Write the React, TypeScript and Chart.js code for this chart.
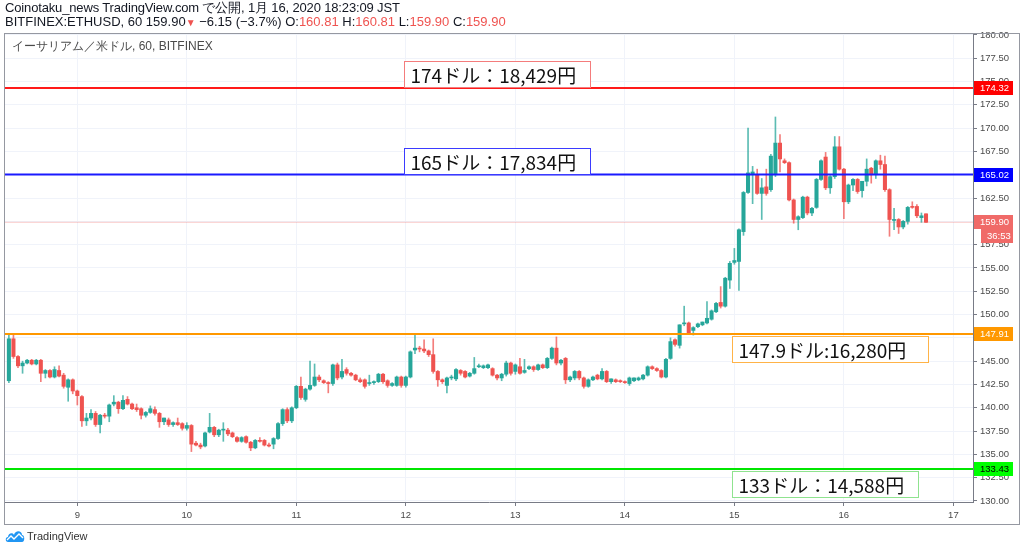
import React, { useEffect, useRef } from "react";
import { Chart, registerables } from "chart.js";
Chart.register(...registerables);

// ---- data (hourly candles, first candle = Jan 8 09:00) ----
const opens = [
  142.9, 147.4, 145.5, 144.5, 144.8, 145.1, 144.7, 145.1, 143.7, 144.0,
  143.3, 144.0, 143.5, 142.2, 143.0, 141.8, 141.2, 138.6, 138.9, 139.4,
  138.2, 139.2, 139.1, 140.4, 140.6, 139.9, 140.9, 140.4, 140.0, 139.9,
  139.2, 139.5, 139.8, 139.4, 138.5, 138.7, 138.2, 138.4, 138.3, 137.8,
  138.1, 136.2, 136.0, 135.9, 137.4, 137.9, 137.1, 137.6, 137.6, 137.3,
  136.8, 136.4, 136.9, 136.3, 135.7, 136.5, 136.5, 136.0, 136.1, 136.7,
  138.3, 139.8, 138.6, 140.0, 142.3, 140.9, 142.0, 142.4, 143.3, 142.9,
  142.7, 142.6, 144.6, 143.3, 144.1, 143.7, 143.5, 143.0, 143.0, 142.6,
  142.7, 142.8, 143.6, 142.9, 142.4, 142.4, 143.3, 142.4, 143.3, 146.2,
  146.4, 146.3, 146.1, 145.7, 143.9, 143.0, 142.4, 143.2, 143.1, 144.0,
  143.9, 143.4, 143.7, 144.4, 144.3, 144.3, 144.2, 143.5, 143.2, 143.6,
  144.8, 143.9, 144.4, 143.8, 144.2, 144.4, 144.1, 144.6, 144.3, 145.3,
  146.4, 144.8, 145.3, 143.0, 143.2, 143.9, 143.2, 142.3, 143.0, 143.5,
  143.1, 143.9, 142.8, 143.0, 142.9, 142.8, 142.6, 142.9, 143.0, 143.1,
  143.5, 144.4, 144.2, 144.0, 143.3, 145.3, 147.3, 146.7, 149.0, 149.1,
  148.3, 148.7, 148.9, 149.1, 149.5, 150.3, 151.3, 150.9, 153.7, 155.6,
  155.7, 158.9, 163.1, 165.0, 165.0, 163.0, 163.7, 163.4, 165.0, 168.4,
  166.5, 166.3, 162.3, 160.2, 160.4, 162.6, 160.9, 161.5, 164.5, 166.9,
  163.6, 164.8, 168.0, 165.6, 162.1, 163.9, 164.5, 163.3, 164.3, 165.7,
  165.0, 166.5, 166.1, 163.4, 160.1, 160.2, 159.4, 160.0, 161.6, 161.6,
  160.4, 160.81,
];
const highs = [
  147.9, 147.9, 145.6, 145.0, 145.2, 145.2, 145.2, 145.2, 144.1, 144.1,
  144.4, 144.5, 143.7, 143.1, 143.1, 141.9, 141.3, 139.4, 139.8, 139.6,
  139.3, 139.4, 140.4, 141.3, 140.7, 141.3, 141.2, 140.5, 140.4, 140.0,
  139.6, 140.2, 140.1, 139.5, 138.9, 138.9, 138.5, 138.9, 138.4, 138.4,
  138.2, 136.4, 136.2, 137.4, 139.4, 138.0, 137.7, 138.4, 137.8, 137.4,
  136.9, 136.9, 137.0, 136.4, 136.6, 136.8, 136.6, 136.2, 136.8, 138.4,
  139.9, 140.0, 140.1, 142.4, 143.3, 142.1, 145.0, 144.7, 143.5, 143.0,
  142.8, 144.7, 144.8, 145.2, 144.3, 143.8, 143.6, 143.2, 143.1, 143.5,
  142.9, 143.7, 143.7, 143.0, 142.7, 143.4, 143.4, 143.4, 146.1, 147.8,
  146.6, 147.3, 146.2, 147.4, 144.0, 143.1, 143.3, 143.5, 144.2, 144.1,
  144.0, 143.8, 145.4, 144.7, 144.6, 144.7, 144.3, 143.6, 143.7, 145.0,
  144.9, 144.7, 145.3, 145.2, 144.5, 144.5, 144.7, 144.7, 145.4, 146.5,
  147.6, 145.2, 145.4, 143.4, 144.0, 144.0, 143.3, 143.1, 143.4, 143.6,
  144.2, 144.0, 143.1, 143.1, 143.0, 142.9, 143.3, 143.2, 143.3, 143.6,
  144.5, 144.5, 144.3, 144.1, 145.3, 147.5, 147.4, 148.9, 150.9, 149.2,
  148.7, 149.1, 149.2, 151.4, 150.5, 151.3, 153.0, 154.0, 155.7, 157.1,
  159.2, 163.2, 170.0, 165.9, 165.6, 164.6, 165.6, 167.2, 171.2, 169.3,
  166.7, 166.4, 162.4, 160.6, 162.7, 162.7, 161.5, 164.6, 166.6, 167.4,
  164.9, 169.1, 169.1, 165.7, 164.0, 164.6, 164.6, 164.3, 166.7, 165.8,
  166.6, 167.1, 167.0, 163.5, 161.4, 160.3, 160.1, 161.6, 162.1, 161.8,
  160.9, 160.81,
];
const lows = [
  142.7, 145.3, 144.3, 143.7, 144.7, 144.6, 144.6, 142.8, 143.2, 143.2,
  143.2, 143.3, 142.1, 140.7, 141.5, 140.3, 138.0, 138.1, 138.7, 138.0,
  137.3, 138.9, 138.5, 140.2, 139.4, 139.8, 140.3, 139.8, 139.6, 138.8,
  139.0, 139.4, 139.2, 137.9, 138.2, 138.0, 138.0, 138.1, 137.6, 137.6,
  135.3, 135.9, 135.6, 135.8, 137.3, 136.9, 136.9, 136.4, 137.0, 136.8,
  136.3, 136.3, 136.2, 135.4, 135.6, 136.3, 135.9, 135.8, 135.6, 136.6,
  138.1, 138.4, 138.4, 139.9, 140.9, 140.7, 141.9, 142.3, 142.8, 142.6,
  141.6, 142.4, 143.0, 143.1, 143.5, 143.4, 142.9, 142.7, 142.1, 142.4,
  142.5, 142.7, 142.6, 142.2, 142.3, 142.3, 142.2, 142.2, 143.2, 145.8,
  146.0, 145.9, 145.5, 143.7, 142.3, 142.6, 141.6, 143.0, 142.9, 143.5,
  143.2, 143.3, 143.6, 144.3, 144.2, 144.2, 143.4, 143.0, 142.9, 143.4,
  143.5, 143.6, 143.6, 143.7, 144.1, 143.9, 144.0, 144.2, 144.2, 145.2,
  144.6, 144.6, 142.6, 142.8, 143.0, 143.0, 142.1, 142.2, 142.9, 143.0,
  143.0, 142.7, 142.6, 142.7, 142.7, 142.6, 142.4, 142.8, 142.9, 143.0,
  143.4, 144.1, 143.9, 143.2, 143.2, 145.2, 146.6, 146.4, 148.8, 147.9,
  147.8, 148.6, 148.8, 149.0, 149.4, 150.2, 150.7, 150.8, 152.8, 155.4,
  152.6, 158.5, 163.0, 161.9, 162.9, 160.2, 162.8, 163.2, 164.8, 165.3,
  166.2, 162.2, 159.8, 159.1, 160.3, 160.7, 160.6, 161.4, 164.4, 163.4,
  163.0, 164.6, 165.5, 160.3, 161.9, 163.3, 163.0, 162.6, 163.8, 164.1,
  164.6, 165.6, 163.2, 158.4, 159.1, 158.7, 159.2, 159.7, 161.4, 160.4,
  159.9, 159.9,
];
const closes = [
  147.4, 145.5, 144.5, 144.8, 145.1, 144.7, 145.1, 143.7, 144.0, 143.3,
  144.1, 143.4, 142.3, 143.0, 141.8, 141.3, 138.6, 138.9, 139.4, 138.2,
  139.2, 139.1, 140.3, 140.6, 139.9, 140.8, 140.4, 139.9, 139.8, 139.2,
  139.5, 139.9, 139.4, 138.5, 138.9, 138.2, 138.4, 138.2, 137.8, 138.1,
  136.1, 136.0, 135.8, 137.3, 137.9, 137.1, 137.6, 137.7, 137.2, 136.9,
  136.4, 136.8, 136.3, 135.7, 136.5, 136.4, 136.0, 135.9, 136.7, 138.3,
  139.8, 138.6, 140.0, 142.3, 141.1, 142.0, 142.4, 143.3, 143.0, 142.7,
  142.6, 144.6, 143.2, 143.9, 143.7, 143.5, 143.0, 142.8, 142.3, 142.7,
  142.8, 143.6, 142.8, 142.4, 142.6, 143.3, 142.4, 143.3, 146.0, 146.4,
  146.3, 146.1, 145.7, 143.9, 143.0, 142.8, 143.2, 143.3, 144.1, 143.7,
  143.3, 143.7, 144.2, 144.5, 144.5, 144.6, 143.5, 143.2, 143.6, 144.8,
  143.7, 144.6, 143.7, 144.0, 144.4, 144.1, 144.6, 144.3, 145.3, 146.4,
  144.8, 145.1, 143.0, 143.3, 143.9, 143.2, 142.3, 143.0, 143.3, 143.1,
  143.9, 142.8, 143.1, 142.8, 142.8, 142.7, 143.2, 143.2, 143.2, 143.5,
  144.4, 144.2, 144.0, 143.3, 145.2, 147.1, 146.8, 148.9, 149.1, 148.0,
  148.6, 149.0, 149.2, 149.6, 150.4, 151.2, 150.9, 153.9, 155.5, 155.8,
  159.1, 163.1, 165.2, 165.3, 163.0, 163.6, 163.0, 167.0, 168.4, 166.7,
  166.3, 162.3, 160.2, 160.5, 162.6, 160.9, 161.4, 164.5, 166.5, 163.6,
  164.8, 168.0, 165.6, 162.1, 163.9, 164.5, 163.2, 164.3, 165.6, 165.0,
  166.5, 166.1, 163.4, 160.2, 160.2, 159.4, 160.0, 161.5, 161.5, 160.6,
  160.6, 159.9,
];

const firstCandleDay = 8;
const firstCandleHour = 9;
const dayTicks = [9, 10, 11, 12, 13, 14, 15, 16, 17];
const priceTicks = [
  130, 132.5, 135, 137.5, 140, 142.5, 145, 147.5, 150, 152.5, 155, 157.5,
  160, 162.5, 165, 167.5, 170, 172.5, 175, 177.5, 180,
];
const levelPrices = [174.32, 165.02, 147.91, 133.43];
const levelLineColors = ["#ff1a1a", "#1a1aff", "#ff9800", "#00e600"];
const levelTagColors = ["#ff0000", "#0000ff", "#ff9800", "#00ff00"];
const levelTagText = ["#ffffff", "#ffffff", "#ffffff", "#000000"];
const levelNotes = ["174ドル：18,429円", "165ドル：17,834円", "147.9ドル:16,280円", "133ドル：14,588円"];
const noteBorders = ["#f47c7c", "#3b3bff", "#ffb347", "#8fe38f"];
const noteHourFrom = [86.6, 86.6, 158.5, 158.5];
const noteHourTo = [127.4, 127.4, 201.5, 199.3];
const noteAbove = [true, true, false, false];
const lastPrice = 159.9;
const countdown = "36:53";

const X_MIN = -0.85;
const X_MAX = 211.3;
const Y_MIN = 129.89;
const Y_MAX = 180.21;

const UP = "#26a69a";
const DOWN = "#ef5350";
const UP_WICK = "rgba(38,166,154,0.75)";
const DOWN_WICK = "rgba(239,83,80,0.75)";
const AXIS_FONT = '"Liberation Sans", Arial, sans-serif';

const dayTickHour = (d: number) => (d - firstCandleDay) * 24 - firstCandleHour;

export default function App() {
  const ref = useRef<HTMLCanvasElement | null>(null);

  useEffect(() => {
    const canvas = ref.current;
    if (!canvas) return;
    const isUp = opens.map((o, i) => closes[i] >= o);

    const hline = (price: number, color: string, width: number, order: number) => ({
      type: "line" as const,
      data: [
        { x: X_MIN, y: price },
        { x: X_MAX, y: price },
      ],
      borderColor: color,
      borderWidth: width,
      pointRadius: 0,
      fill: false,
      order,
    });

    const overlay = {
      id: "overlay",
      afterDraw(chart: any) {
        const ctx = chart.ctx;
        const xs = chart.scales.x;
        const ys = chart.scales.y;
        const area = chart.chartArea;
        ctx.save();
        // notes
        levelNotes.forEach((txt, i) => {
          const yLine = Math.round(ys.getPixelForValue(levelPrices[i]));
          const x0 = Math.round(xs.getPixelForValue(noteHourFrom[i])) + 0.5;
          const x1 = Math.round(xs.getPixelForValue(noteHourTo[i])) + 0.5;
          const h = 26;
          const yTop = noteAbove[i] ? yLine - h - 1 + 0.5 : yLine + 2 + 0.5;
          ctx.fillStyle = "#ffffff";
          ctx.fillRect(x0, yTop, x1 - x0, h);
          ctx.strokeStyle = noteBorders[i];
          ctx.lineWidth = 1;
          ctx.strokeRect(x0, yTop, x1 - x0, h);
          ctx.fillStyle = "#111111";
          ctx.font = '19px "Noto Sans CJK JP", sans-serif';
          ctx.textBaseline = "middle";
          ctx.textAlign = "left";
          ctx.fillText(txt, x0 + 6, yTop + h / 2 + 1);
        });
        // price tags on the right axis
        const tag = (price: number, text: string, bg: string, fg: string, left: number, dy = 0) => {
          const y = ys.getPixelForValue(price) + dy;
          ctx.fillStyle = bg;
          ctx.fillRect(left, Math.round(y - 7), 1013 - left, 14);
          ctx.fillStyle = fg;
          ctx.font = "9.5px " + AXIS_FONT;
          ctx.textBaseline = "middle";
          ctx.textAlign = "left";
          ctx.fillText(text, left + 6, Math.round(y) + 0.5);
        };
        levelPrices.forEach((p, i) => tag(p, p.toFixed(2), levelTagColors[i], levelTagText[i], area.right + 1));
        tag(lastPrice, lastPrice.toFixed(2), "#f06a68", "#ffffff", area.right + 1);
        tag(lastPrice, countdown, "#f06a68", "#ffffff", area.right + 8, 14);
        // frame
        ctx.strokeStyle = "#9598a1";
        ctx.lineWidth = 1;
        ctx.strokeRect(4.5, 33.5, 1015, 491);
        ctx.restore();
      },
    };

    const chart = new Chart(canvas, {
      type: "bar",
      data: {
        datasets: [
          hline(levelPrices[0], levelLineColors[0], 2, 0),
          hline(levelPrices[1], levelLineColors[1], 2, 0),
          hline(levelPrices[2], levelLineColors[2], 2, 0),
          hline(levelPrices[3], levelLineColors[3], 2, 0),
          hline(lastPrice, "rgba(239,83,80,0.3)", 1, 3),
          {
            type: "bar",
            data: opens.map((_, i) => ({ x: i, y: [lows[i], highs[i]] })),
            backgroundColor: isUp.map((u) => (u ? UP_WICK : DOWN_WICK)),
            barThickness: 1,
            grouped: false,
            order: 2,
          } as any,
          {
            type: "bar",
            data: opens.map((o, i) => ({ x: i, y: [o, closes[i]] })),
            backgroundColor: isUp.map((u) => (u ? UP : DOWN)),
            barThickness: 3.4,
            minBarLength: 1,
            grouped: false,
            order: 1,
          } as any,
        ],
      },
      options: {
        animation: false,
        responsive: false,
        devicePixelRatio: 1,
        layout: { padding: { left: 5, right: 5, top: 33, bottom: 28 } },
        plugins: { legend: { display: false }, tooltip: { enabled: false } },
        events: [],
        scales: {
          x: {
            type: "linear",
            min: X_MIN,
            max: X_MAX,
            offset: false,
            afterBuildTicks: (s: any) => {
              s.ticks = dayTicks.map((d) => ({ value: dayTickHour(d) }));
            },
            afterFit: (s: any) => {
              s.height = 22;
            },
            ticks: {
              autoSkip: false,
              maxRotation: 0,
              padding: 4,
              color: "#4a4a4a",
              font: { family: AXIS_FONT, size: 9.5 },
              callback: (_v: any, i: number) => String(dayTicks[i]),
            },
            grid: { color: "#f0f3fa", tickColor: "#787b86", tickLength: 4, offset: false },
            border: { color: "#787b86" },
          },
          y: {
            type: "linear",
            position: "right",
            min: Y_MIN,
            max: Y_MAX,
            afterBuildTicks: (s: any) => {
              s.ticks = priceTicks.map((v) => ({ value: v }));
            },
            afterFit: (s: any) => {
              s.width = 46;
            },
            ticks: {
              padding: 3,
              color: "#4a4a4a",
              font: { family: AXIS_FONT, size: 9.5 },
              callback: (v: any) => Number(v).toFixed(2),
            },
            grid: { color: "#f0f3fa", tickColor: "#787b86", tickLength: 4 },
            border: { color: "#787b86" },
          },
        },
      } as any,
      plugins: [overlay],
    });
    return () => chart.destroy();
  }, []);

  const red = "#ef5350";
  return (
    <div
      style={{
        position: "absolute",
        left: 0,
        top: 0,
        width: 1024,
        height: 552,
        background: "#ffffff",
        overflow: "hidden",
        fontFamily: AXIS_FONT,
      }}
    >
      <canvas ref={ref} width={1024} height={552} style={{ position: "absolute", left: 0, top: 0, width: 1024, height: 552 }} />
      <div style={{ position: "absolute", left: 5, top: 1, fontSize: 13, lineHeight: "14px", color: "#131722", whiteSpace: "nowrap" }}>
        <div style={{ letterSpacing: -0.15 }}>Coinotaku_news TradingView.com で公開, 1月 16, 2020 18:23:09 JST</div>
        <div>
          BITFINEX:ETHUSD, 60 159.90<span style={{ color: red, fontSize: 10 }}>▼</span> −6.15 (−3.7%) O:
          <span style={{ color: red }}>160.81</span> H:<span style={{ color: red }}>160.81</span> L:
          <span style={{ color: red }}>159.90</span> C:<span style={{ color: red }}>159.90</span>
        </div>
      </div>
      <div style={{ position: "absolute", left: 12, top: 38, fontSize: 12, lineHeight: "16px", color: "#4a4a4a", whiteSpace: "nowrap" }}>
        イーサリアム／米ドル, 60, BITFINEX
      </div>
      <div style={{ position: "absolute", left: 5, top: 529, display: "flex", alignItems: "center", whiteSpace: "nowrap" }}>
        <svg width="20" height="14" viewBox="0 0 20 14">
          <path d="M3 13 C0 13 0 8 3 8 C3 4 8 3 9 6 C10 1 17 1 17 6 C20 6 20 13 17 13 Z" fill="#2196f3" />
          <path d="M2 11 L6 7 L9 10 L14 5 L18 9" stroke="#ffffff" strokeWidth="1.4" fill="none" />
        </svg>
        <span style={{ fontSize: 11, color: "#333333", marginLeft: 2 }}>TradingView</span>
      </div>
    </div>
  );
}
